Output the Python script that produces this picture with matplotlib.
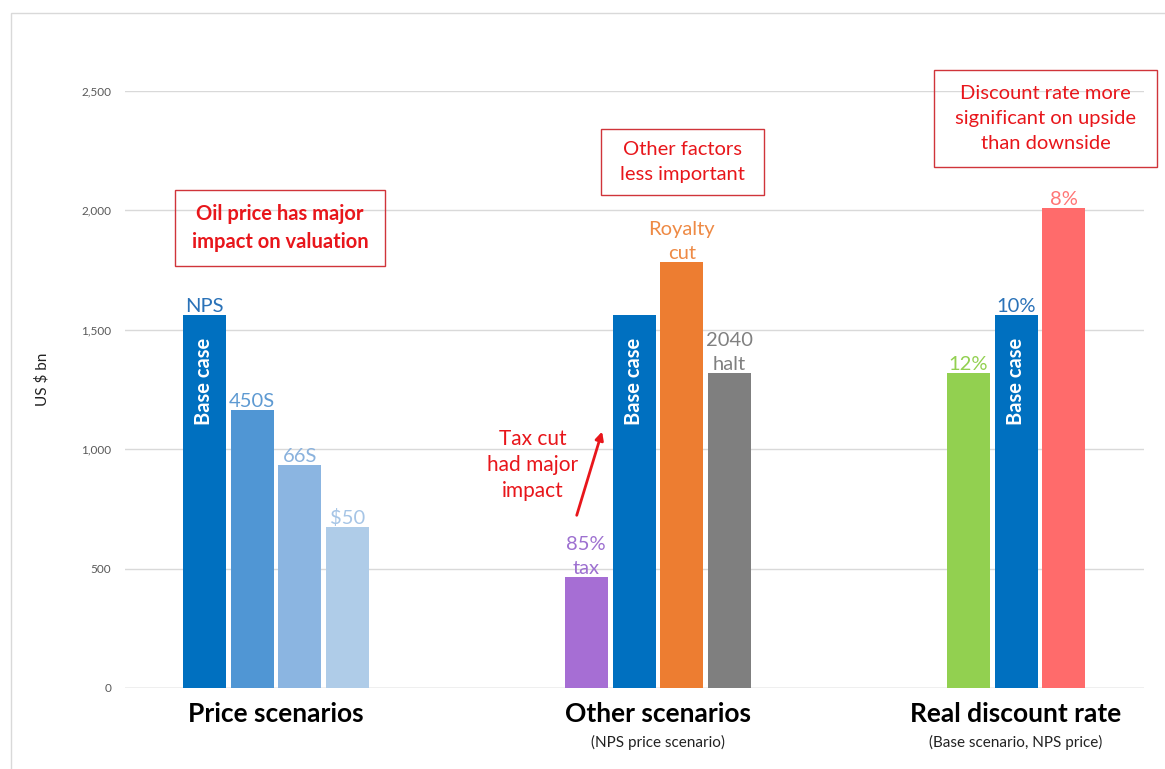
import matplotlib
matplotlib.use("Agg")
import matplotlib.pyplot as plt
from matplotlib.patches import Rectangle

plt.rcParams['font.family'] = ['Lato', 'DejaVu Sans']

# ---- data -------------------------------------------------------------
groups = ["Price scenarios", "Other scenarios", "Real discount rate"]
group_notes = ["", "(NPS price scenario)", "(Base scenario, NPS price)"]

price_labels = ["NPS", "450S", "66S", "$50"]
price_values = [1560, 1165, 935, 675]

other_labels = ["85%\ntax", "", "Royalty\ncut", "2040\nhalt"]
other_values = [465, 1560, 1785, 1320]

rate_labels = ["12%", "10%", "8%"]
rate_values = [1320, 1560, 2010]

y_ticks = [0, 500, 1000, 1500, 2000, 2500]

# ---- styles -----------------------------------------------------------
price_colors = ["#0070C0", "#5096D4", "#8BB5E1", "#AFCCE8"]
price_text = ["#2A72B8", "#5E9AD2", "#8AB2DD", "#A6C5E6"]
other_colors = ["#A66ED4", "#0070C0", "#ED7D31", "#7F7F7F"]
other_text = ["#9D70D0", "#0070C0", "#EE8A45", "#808080"]
rate_colors = ["#92D050", "#0070C0", "#FF6B6B"]
rate_text = ["#92D050", "#2A72B8", "#FF7575"]
red = "#E8161B"

W, H = 1165, 769
fig = plt.figure(figsize=(W / 100, H / 100), dpi=100)
ax = fig.add_axes([125 / W, 81 / H, (1144 - 125) / W, (688 - 91) / H])

bar_w = 0.9
group_step = 8
offsets = [-1.5, -0.5, 0.5, 1.5]

series = [
    (price_values, price_labels, price_colors, price_text),
    (other_values, other_labels, other_colors, other_text),
    (rate_values, rate_labels, rate_colors, rate_text),
]

# base-case bar index for each group (gets the vertical "Base case" tag)
base_index = [0, 1, 1]

group_mid = []
for g, (vals, labs, cols, tcols) in enumerate(series):
    xs = [g * group_step + offsets[i] for i in range(len(vals))]
    group_mid.append(sum(xs) / len(xs))
    ax.bar(xs, vals, width=bar_w, color=cols, zorder=3)
    for x, v, lab, tc in zip(xs, vals, labs, tcols):
        if lab:
            ax.annotate(lab, (x, v), xytext=(0, 0), textcoords="offset points",
                        ha="center", va="bottom", fontsize=14.5, color=tc,
                        linespacing=1.5, zorder=4)
    bi = base_index[g]
    ax.annotate("Base case", (xs[bi], vals[bi]), xytext=(0, -16),
                textcoords="offset points", rotation=90, ha="center", va="top",
                fontsize=14.5, fontweight="bold", color="white", zorder=4)

# axes styling
ax.set_ylim(0, 2500)
ax.set_xlim(-3.16, 18.18)
ax.set_yticks(y_ticks)
ax.set_yticklabels([f"{t:,}" for t in y_ticks], fontsize=8.5, color="#595959")
ax.tick_params(axis="y", length=0, pad=10)
ax.set_xticks([])
for s in ax.spines.values():
    s.set_visible(False)
ax.grid(axis="y", color="#D9D9D9", linewidth=1, zorder=0)
ax.axhline(0, color="#CFCFCF", linewidth=1, zorder=2)
ax.set_ylabel("US $ bn", fontsize=11, color="#222222", labelpad=0)
ax.yaxis.set_label_coords((49 - 125) / (1144 - 125), (688 - 379) / (688 - 91))

# group titles beneath the axis, centred under each group's bars
trans = ax.get_xaxis_transform()
for xm, name, note in zip(group_mid, groups, group_notes):
    ax.text(xm, -0.0436, name, transform=trans, ha="center",
            va="center", fontsize=19, fontweight="bold", color="black")
    if note:
        ax.text(xm, -0.0905, note, transform=trans,
                ha="center", va="center", fontsize=11, color="#222222")

# callout boxes
def callout(x0, x1, y0, y1, text, bold=False, spacing=1.6):
    ax.add_patch(Rectangle((x0, y0), x1 - x0, y1 - y0, fill=False,
                           edgecolor="#D0343A", linewidth=1, clip_on=False,
                           zorder=5))
    ax.text((x0 + x1) / 2, (y0 + y1) / 2, text, ha="center", va="center",
            fontsize=14.5, color=red, fontweight="bold" if bold else "normal",
            linespacing=spacing, zorder=6, clip_on=False)

callout(-2.115, 2.283, 1767, 2085, "Oil price has major\nimpact on valuation",
        bold=True, spacing=1.45)
callout(6.806, 10.22, 2064, 2341, "Other factors\nless important")
callout(13.78, 18.45, 2182, 2588, "Discount rate more\nsignificant on upside\nthan downside")

# tax-cut note with arrow
ax.text(5.38, 934, "Tax cut\nhad major\nimpact", ha="center", va="center",
        fontsize=15, color=red, linespacing=1.4, zorder=6)
ax.annotate("", xy=(6.848, 1085), xytext=(6.283, 712),
            arrowprops=dict(arrowstyle="-|>", color=red, lw=2,
                            mutation_scale=12), zorder=6)

# light frame around the chart area
fig.patches.append(Rectangle((11 / W, -0.05), 1.1, 1 - 13 / H + 0.05,
                             transform=fig.transFigure, fill=False,
                             edgecolor="#D9D9D9", linewidth=1))

fig.savefig("out.png", dpi=100)
